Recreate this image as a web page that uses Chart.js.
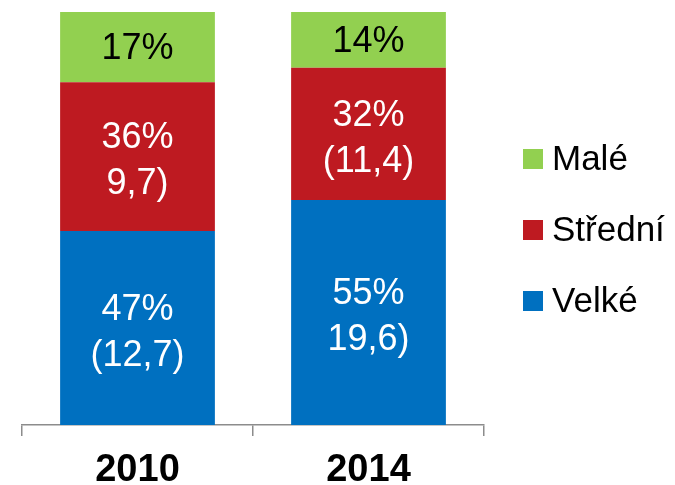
<!DOCTYPE html>
<html>
<head>
<meta charset="utf-8">
<script src="https://cdn.jsdelivr.net/npm/chart.js@4/dist/chart.umd.min.js"></script>
<style>
  html, body { margin: 0; padding: 0; background: #fff; }
  #wrap { width: 675px; height: 485px; }
</style>
</head>
<body>
<div id="wrap"><canvas id="chart" width="675" height="485"></canvas></div>
<script>
const years = ["2010", "2014"];

// podíly v %
const velke = [47, 54.5];
const stredni = [36, 32];
const male = [17, 13.5];

// popisky uvnitř sloupců (tak jak jsou v originále)
const velkeLabels = [["47%", "(12,7)"], ["55%", "19,6)"]];
const stredniLabels = [["36%", "9,7)"], ["32%", "(11,4)"]];
const maleLabels = [["17%"], ["14%"]];

const colors = {
  green: "#92D050",
  red: "#BE1A21",
  blue: "#0070C0",
  axis: "#8C8C8C"
};

const font = "'Liberation Sans', Arial, sans-serif";

// texty do segmentů
const segmentLabels = {
  id: "segmentLabels",
  afterDatasetsDraw(chart) {
    const ctx = chart.ctx;
    ctx.save();
    ctx.font = "36px " + font;
    ctx.textAlign = "center";
    ctx.textBaseline = "middle";
    chart.data.datasets.forEach((ds, i) => {
      const meta = chart.getDatasetMeta(i);
      meta.data.forEach((bar, j) => {
        const lines = ds.segLabels[j];
        const mid = (bar.y + bar.base) / 2;
        const lh = 46;
        const y0 = mid - (lines.length - 1) * lh / 2 + (lines.length > 1 ? 5 : 2);
        ctx.fillStyle = ds.textColor;
        lines.forEach((t, k) => ctx.fillText(t, bar.x, y0 + k * lh));
      });
    });
    ctx.restore();
  }
};

// legenda vpravo (obrácené pořadí)
const sideLegend = {
  id: "sideLegend",
  afterDraw(chart) {
    const ctx = chart.ctx;
    ctx.save();
    ctx.font = "35px " + font;
    ctx.textBaseline = "middle";
    ctx.textAlign = "left";
    const items = chart.data.datasets.slice().reverse();
    items.forEach((ds, k) => {
      const cy = 159 + k * 71;
      ctx.fillStyle = ds.backgroundColor;
      ctx.fillRect(523, cy - 10, 20, 20);
      ctx.fillStyle = "#000";
      ctx.fillText(ds.label, 552, cy + 1);
    });
    ctx.restore();
  }
};

new Chart(document.getElementById("chart"), {
  type: "bar",
  data: {
    labels: years,
    datasets: [
      { label: "Velké", data: velke, backgroundColor: colors.blue, segLabels: velkeLabels, textColor: "#fff" },
      { label: "Střední", data: stredni, backgroundColor: colors.red, segLabels: stredniLabels, textColor: "#fff" },
      { label: "Malé", data: male, backgroundColor: colors.green, segLabels: maleLabels, textColor: "#000" }
    ]
  },
  options: {
    responsive: false,
    animation: false,
    layout: { padding: { left: 22, right: 191, top: 12, bottom: 0 } },
    datasets: {
      bar: { categoryPercentage: 1, barPercentage: 0.67, borderWidth: 0 }
    },
    scales: {
      x: {
        stacked: true,
        afterFit(scale) { scale.height = 60; },
        grid: {
          display: true,
          drawOnChartArea: false,
          drawTicks: true,
          tickLength: 11,
          color: colors.axis,
          lineWidth: 1.5
        },
        border: { display: true, color: colors.axis, width: 1.5 },
        ticks: {
          color: "#000",
          padding: 16,
          font: { family: font, size: 38, weight: "bold", lineHeight: 1 }
        }
      },
      y: {
        stacked: true,
        display: false,
        min: 0,
        max: 100
      }
    },
    plugins: {
      legend: { display: false },
      tooltip: { enabled: false }
    }
  },
  plugins: [segmentLabels, sideLegend]
});
</script>
</body>
</html>
